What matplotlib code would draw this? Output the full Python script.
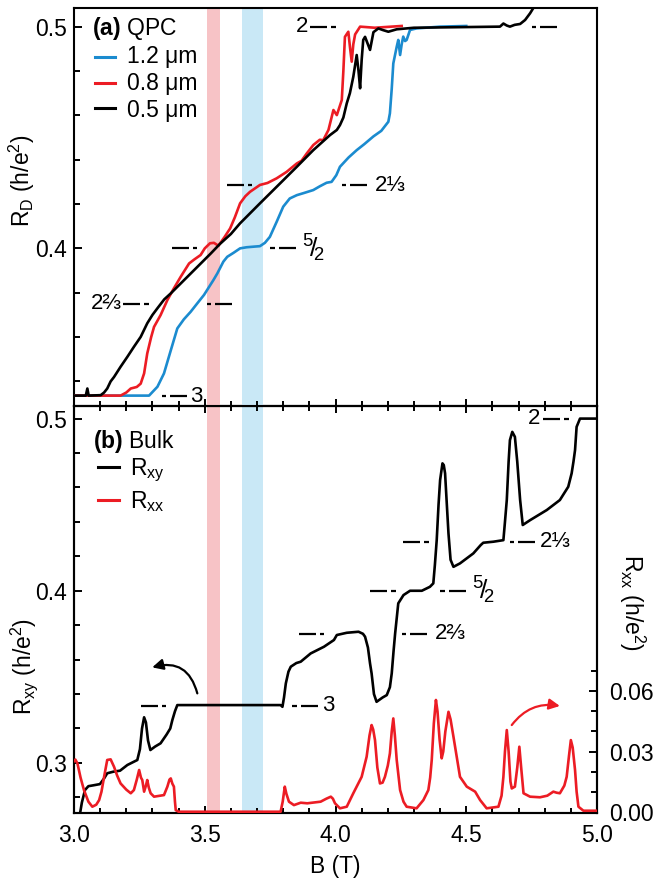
import matplotlib
matplotlib.use("Agg")
import matplotlib.pyplot as plt
import numpy as np

plt.rcParams['font.family'] = ['Liberation Sans', 'DejaVu Sans']
plt.rcParams['mathtext.fontset'] = 'custom'
plt.rcParams['mathtext.rm'] = 'Liberation Sans'
plt.rcParams['mathtext.it'] = 'Liberation Sans:italic'
plt.rcParams['mathtext.bf'] = 'Liberation Sans:bold'

# ---------------- data: (a) QPC ----------------
blue_B = [3.0, 3.287, 3.319, 3.344, 3.37, 3.395, 3.42, 3.446, 3.47, 3.497, 3.533, 3.548, 3.571, 3.586,
          3.61, 3.635, 3.66, 3.69, 3.711, 3.73, 3.749, 3.775, 3.80, 3.825, 3.852, 3.88, 3.915, 3.94,
          3.966, 3.985, 4.003, 4.017, 4.05, 4.081, 4.11, 4.145, 4.175, 4.202, 4.208, 4.215, 4.221,
          4.234, 4.24, 4.247, 4.253, 4.259, 4.266, 4.272, 4.285, 4.31, 4.40, 4.50]
blue_R = [0.3336, 0.3336, 0.3376, 0.3436, 0.354, 0.3639, 0.368, 0.3714, 0.375, 0.379, 0.3857, 0.3887,
          0.394, 0.3962, 0.398, 0.400, 0.4005, 0.4008, 0.401, 0.4025, 0.4052, 0.412, 0.4188, 0.4225,
          0.424, 0.425, 0.4263, 0.428, 0.4296, 0.430, 0.433, 0.4368, 0.441, 0.4443, 0.447, 0.4505,
          0.453, 0.4571, 0.4609, 0.472, 0.4834, 0.4909, 0.494, 0.4872, 0.492, 0.4955, 0.4935, 0.494,
          0.4985, 0.4992, 0.5, 0.5003]

red_B = [3.0, 3.178, 3.20, 3.217, 3.24, 3.255, 3.268, 3.28, 3.295, 3.306, 3.331, 3.357, 3.382, 3.408,
         3.44, 3.46, 3.484, 3.50, 3.52, 3.535, 3.552, 3.575, 3.597, 3.615, 3.635, 3.655, 3.673, 3.711,
         3.74, 3.775, 3.813, 3.852, 3.87, 3.89, 3.915, 3.94, 3.953, 3.973, 3.992, 4.005, 4.024, 4.030,
         4.036, 4.049, 4.056, 4.062, 4.068, 4.075, 4.094, 4.15, 4.253]
red_R = [0.3336, 0.3336, 0.335, 0.3368, 0.3375, 0.339, 0.3436, 0.3526, 0.36, 0.3646, 0.3699, 0.3767,
         0.382, 0.3872, 0.3932, 0.395, 0.397, 0.400, 0.4023, 0.4025, 0.4012, 0.405, 0.409, 0.414,
         0.4203, 0.4235, 0.4255, 0.4286, 0.4295, 0.4316, 0.4345, 0.4383, 0.4395, 0.4428, 0.4466,
         0.449, 0.4488, 0.4534, 0.4624, 0.4601, 0.4669, 0.480, 0.4954, 0.4977, 0.490, 0.4842, 0.492,
         0.4965, 0.5, 0.4995, 0.5003]

black_B = [3.0, 3.045, 3.051, 3.056, 3.102, 3.115, 3.127, 3.14, 3.153, 3.178, 3.204, 3.229, 3.255,
           3.28, 3.30, 3.319, 3.345, 3.37, 3.421, 3.472, 3.523, 3.558, 3.60, 3.635, 3.711, 3.788,
           3.852, 3.915, 3.979, 4.005, 4.017, 4.03, 4.043, 4.055, 4.068, 4.081, 4.088, 4.094, 4.100,
           4.106, 4.113, 4.132, 4.145, 4.164, 4.18, 4.202, 4.234, 4.30, 4.629, 4.642, 4.655, 4.667,
           4.685, 4.706, 4.725, 4.744, 4.756, 4.76]
black_R = [0.3336, 0.3336, 0.3368, 0.3336, 0.3338, 0.335, 0.3368, 0.340, 0.342, 0.3466, 0.3511, 0.3556,
           0.3601, 0.3662, 0.370, 0.373, 0.377, 0.3797, 0.3857, 0.3917, 0.3977, 0.4020, 0.4065,
           0.4113, 0.4203, 0.4293, 0.4368, 0.4443, 0.4511, 0.4534, 0.4556, 0.459, 0.4654, 0.470,
           0.4774, 0.4872, 0.480, 0.4722, 0.485, 0.494, 0.4954, 0.4895, 0.4975, 0.4992, 0.4985,
           0.4977, 0.4988, 0.4995, 0.5, 0.5014, 0.5005, 0.5, 0.5008, 0.5012, 0.503, 0.506, 0.5083, 0.5095]

# ---------------- data: (b) Bulk ----------------
rxy_B = [3.023, 3.03, 3.042, 3.055, 3.074, 3.099, 3.115, 3.127, 3.15, 3.176, 3.204, 3.242, 3.252,
         3.260, 3.268, 3.275, 3.283, 3.292, 3.31, 3.331, 3.354, 3.368, 3.376, 3.386, 3.395, 3.79,
         3.797, 3.803, 3.81, 3.82, 3.829, 3.85, 3.867, 3.905, 3.956, 3.994, 4.005, 4.043, 4.088,
         4.105, 4.113, 4.124, 4.132, 4.138, 4.147, 4.157, 4.18, 4.196, 4.208, 4.215, 4.222, 4.228,
         4.24, 4.26, 4.285, 4.33, 4.361, 4.374, 4.38, 4.387, 4.394, 4.40, 4.409, 4.414, 4.419,
         4.425, 4.432, 4.44, 4.451, 4.476, 4.527, 4.555, 4.565, 4.604, 4.642, 4.648, 4.655, 4.662,
         4.667, 4.676, 4.686, 4.695, 4.706, 4.716, 4.744, 4.808, 4.858, 4.89, 4.903, 4.91, 4.916,
         4.922, 4.935, 5.0]
rxy_R = [0.2707, 0.277, 0.2843, 0.2865, 0.2870, 0.2877, 0.291, 0.294, 0.2949, 0.2955, 0.2988, 0.3017,
         0.308, 0.320, 0.3265, 0.3235, 0.313, 0.3075, 0.3095, 0.3114, 0.3165, 0.320, 0.3249, 0.330,
         0.3336, 0.3336, 0.3326, 0.338, 0.3462, 0.353, 0.3559, 0.358, 0.3588, 0.3636, 0.3675,
         0.3714, 0.3743, 0.3756, 0.3762, 0.375, 0.3733, 0.367, 0.3578, 0.352, 0.340, 0.3355, 0.338,
         0.3394, 0.344, 0.352, 0.365, 0.3752, 0.3927, 0.3975, 0.4, 0.4, 0.4023, 0.4043, 0.415,
         0.4294, 0.450, 0.4643, 0.474, 0.473, 0.4682, 0.452, 0.4333, 0.418, 0.4139, 0.4159, 0.4217,
         0.4265, 0.4279, 0.4285, 0.4294, 0.440, 0.4527, 0.475, 0.4875, 0.4923, 0.4894, 0.475,
         0.4527, 0.4382, 0.441, 0.4469, 0.4527, 0.4604, 0.4682, 0.475, 0.4817, 0.4952, 0.5, 0.5]

rxx_B = [3.0, 3.005, 3.013, 3.025, 3.038, 3.055, 3.07, 3.085, 3.096, 3.105, 3.115, 3.127, 3.14, 3.153,
         3.165, 3.178, 3.20, 3.217, 3.229, 3.24, 3.249, 3.256, 3.261, 3.268, 3.275, 3.28, 3.286,
         3.293, 3.306, 3.344, 3.357, 3.365, 3.37, 3.376, 3.382, 3.386, 3.389, 3.40, 3.79, 3.798,
         3.806, 3.812, 3.822, 3.841, 3.867, 3.892, 3.943, 3.965, 3.982, 3.99, 3.998, 4.017, 4.043,
         4.068, 4.1, 4.119, 4.13, 4.138, 4.144, 4.151, 4.16, 4.17, 4.18, 4.189, 4.2, 4.208, 4.215,
         4.221, 4.227, 4.234, 4.247, 4.26, 4.272, 4.31, 4.336, 4.355, 4.362, 4.368, 4.376, 4.384,
         4.39, 4.398, 4.406, 4.412, 4.42, 4.432, 4.44, 4.451, 4.476, 4.502, 4.534, 4.553, 4.578,
         4.623, 4.635, 4.642, 4.648, 4.655, 4.662, 4.669, 4.674, 4.686, 4.695, 4.703, 4.71, 4.719,
         4.744, 4.782, 4.81, 4.833, 4.845, 4.858, 4.875, 4.884, 4.893, 4.9, 4.907, 4.916, 4.922,
         4.929, 4.948, 5.0]
rxx_R = [0.0252, 0.026, 0.0241, 0.017, 0.0108, 0.005, 0.0025, 0.0035, 0.0058, 0.010, 0.0174, 0.0258,
         0.0261, 0.0224, 0.018, 0.0141, 0.011, 0.0092, 0.0108, 0.016, 0.0208, 0.017, 0.0158, 0.010,
         0.013, 0.0158, 0.012, 0.0092, 0.0075, 0.0083, 0.0125, 0.016, 0.0166, 0.014, 0.0125, 0.005,
         0.0008, 0.0, 0.0, 0.005, 0.0125, 0.009, 0.005, 0.0033, 0.0045, 0.0042, 0.005, 0.0065,
         0.0075, 0.0065, 0.0042, 0.0017, 0.0025, 0.0092, 0.0174, 0.0274, 0.038, 0.0432, 0.041,
         0.0357, 0.022, 0.0141, 0.0145, 0.0174, 0.023, 0.0291, 0.040, 0.0465, 0.038, 0.0258,
         0.0108, 0.005, 0.0025, 0.0017, 0.0058, 0.0108, 0.017, 0.0258, 0.044, 0.0557, 0.050,
         0.036, 0.0266, 0.030, 0.040, 0.0498, 0.046, 0.0374, 0.0174, 0.0125, 0.01, 0.0058, 0.0017,
         0.0025, 0.008, 0.0174, 0.030, 0.0407, 0.030, 0.015, 0.0116, 0.0125, 0.022, 0.0324, 0.022,
         0.0092, 0.0075, 0.0072, 0.008, 0.01, 0.0095, 0.0092, 0.013, 0.0174, 0.028, 0.0357, 0.032,
         0.0208, 0.010, 0.0025, 0.0005, 0.0005]

# plateau levels (h/e^2) and labels
level_vals = [1/2, 3/7, 2/5, 3/8, 1/3]
level_text = ["2", "2⅓", r"${}^{5}\!/\!{}_{2}$", "2⅔", "3"]

# ---------------- styles ----------------
C_BLUE = '#1b8bcf'
C_RED = '#ec1c24'
C_PINK = '#f7c3c6'
C_LBLUE = '#c9e8f6'
PX = 2.0 / 523.0  # data units (T) per pixel

fig = plt.figure(figsize=(6.58, 8.8), dpi=100)
axA = fig.add_axes([0.1125, 0.5386, 0.7948, 0.4523])
axB = fig.add_axes([0.1125, 0.0761, 0.7948, 0.4625])
axR = axB.twinx()

FS = 16.5
MFS = 16
for ax in (axA, axB, axR):
    for s in ax.spines.values():
        s.set_linewidth(1.5)

def style_x(ax, labels):
    ax.set_xticks([3.0, 3.5, 4.0, 4.5, 5.0])
    ax.set_xticks(np.arange(3.0, 5.001, 0.1), minor=True)
    ax.set_xlim(3.0, 5.0)
    ax.tick_params(axis='x', which='both', direction='in', width=1.4, top=(ax is axB),
                   labelbottom=labels, pad=8, labelsize=FS)
    ax.tick_params(axis='x', which='major', length=5)
    ax.tick_params(axis='x', which='minor', length=3.5)

style_x(axA, False)
style_x(axB, True)
axB.set_xticklabels(['3.0', '3.5', '4.0', '4.5', '5.0'])

for ax, lo, hi, mj, mn in ((axA, 0.3289, 0.5084, [0.4, 0.5], np.arange(0.34, 0.501, 0.02)),
                           (axB, 0.2709, 0.5073, [0.3, 0.4, 0.5], np.arange(0.28, 0.501, 0.02))):
    ax.set_yticks(mj)
    ax.set_yticks(mn, minor=True)
    ax.set_ylim(lo, hi)
    ax.tick_params(axis='y', which='both', direction='in', width=1.4, pad=5, labelsize=FS)
    ax.tick_params(axis='y', which='major', length=6)
    ax.tick_params(axis='y', which='minor', length=4)
axA.set_yticklabels(['0.4', '0.5'])
axB.set_yticklabels(['0.3', '0.4', '0.5'])

axR.set_yticks([0.0, 0.03, 0.06])
axR.set_yticks([0.01, 0.02, 0.04, 0.05, 0.07], minor=True)
axR.set_ylim(-0.00065, 0.2022)
axR.set_yticklabels(['0.00', '0.03', '0.06'])
axR.tick_params(axis='y', which='both', direction='in', width=1.4, pad=9, labelsize=FS)
axR.tick_params(axis='y', which='major', length=6)
axR.tick_params(axis='y', which='minor', length=4)

# shaded bands
for ax in (axA, axB):
    ax.axvspan(3.51, 3.558, color=C_PINK, lw=0, zorder=0)
    ax.axvspan(3.644, 3.724, color=C_LBLUE, lw=0, zorder=0)

LW = 1.9
axA.plot(blue_B, blue_R, color=C_BLUE, lw=LW, zorder=3)
axA.plot(black_B, black_R, color='k', lw=LW, zorder=4)
axA.plot(red_B, red_R, color=C_RED, lw=LW, zorder=3)
axB.plot(rxy_B, rxy_R, color='k', lw=LW, zorder=3)
axR.plot(rxx_B, rxx_R, color=C_RED, lw=LW, zorder=3)

# plateau markers
def marker(ax, x0, y, kind):
    dash, gap, dot = 17 * PX, 4 * PX, 4.5 * PX
    if kind == 'L':
        segs = [(x0, x0 + dash), (x0 + dash + gap, x0 + dash + gap + dot)]
    else:
        segs = [(x0, x0 + dot), (x0 + dot + gap, x0 + dot + gap + dash)]
    for a, b in segs:
        ax.plot([a, b], [y, y], color='k', lw=1.6, solid_capstyle='butt', zorder=5)

# (a)
marker(axA, 3.9025, level_vals[0], 'L'); marker(axA, 4.750, level_vals[0], 'R')
axA.text(3.897, level_vals[0], level_text[0], ha='right', va='center', fontsize=MFS)
marker(axA, 3.584, level_vals[1], 'L'); marker(axA, 4.024, level_vals[1], 'R')
axA.text(4.151, level_vals[1], level_text[1], ha='left', va='center', fontsize=MFS)
marker(axA, 3.374, level_vals[2], 'L'); marker(axA, 3.7495, level_vals[2], 'R')
axA.text(3.871, level_vals[2], level_text[2], ha='left', va='center', fontsize=MFS + 3)
marker(axA, 3.1885, level_vals[3], 'L'); marker(axA, 3.507, level_vals[3], 'R')
axA.text(3.182, level_vals[3], level_text[3], ha='right', va='center', fontsize=MFS)
marker(axA, 3.335, level_vals[4], 'R')
axA.text(3.444, level_vals[4], level_text[4], ha='left', va='center', fontsize=MFS)
# (b)
marker(axB, 4.795, level_vals[0], 'L')
axB.text(4.782, level_vals[0], level_text[0], ha='right', va='center', fontsize=MFS)
marker(axB, 4.259, level_vals[1], 'L'); marker(axB, 4.667, level_vals[1], 'R')
axB.text(4.782, level_vals[1], level_text[1], ha='left', va='center', fontsize=MFS)
marker(axB, 4.132, level_vals[2], 'L'); marker(axB, 4.400, level_vals[2], 'R')
axB.text(4.521, level_vals[2], level_text[2], ha='left', va='center', fontsize=MFS + 3)
marker(axB, 3.860, level_vals[3], 'L'); marker(axB, 4.253, level_vals[3], 'R')
axB.text(4.381, level_vals[3], level_text[3], ha='left', va='center', fontsize=MFS)
marker(axB, 3.255, level_vals[4], 'L'); marker(axB, 3.835, level_vals[4], 'R')
axB.text(3.948, level_vals[4], level_text[4], ha='left', va='center', fontsize=MFS)

# legends (manual)
axA.text(0.0344, 0.932, r'$\bf{(a)}$ QPC', transform=axA.transAxes, fontsize=FS, ha='left', va='baseline')
for (lab, col, yb, yl) in (('1.2 μm', C_BLUE, 0.861, 0.877), ('0.8 μm', C_RED, 0.794, 0.8116),
                           ('0.5 μm', 'k', 0.727, 0.7487)):
    axA.plot([0.040, 0.0784], [yl, yl], color=col, lw=2.2, transform=axA.transAxes)
    axA.text(0.1013, yb, lab, transform=axA.transAxes, fontsize=FS, ha='left', va='baseline')

axB.text(0.0358, 0.896, r'$\bf{(b)}$ Bulk', transform=axB.transAxes, fontsize=FS, ha='left', va='baseline')
for (lab, col, yb, yl) in ((r'R$_{\rm xy}$', 'k', 0.830, 0.851), (r'R$_{\rm xx}$', C_RED, 0.749, 0.769)):
    axB.plot([0.0459, 0.086], [yl, yl], color=col, lw=2.2, transform=axB.transAxes)
    axB.text(0.107, yb, lab, transform=axB.transAxes, fontsize=FS, ha='left', va='baseline')

# arrows
axB.annotate('', xy=(3.299, 0.3555), xytext=(3.4715, 0.3404),
             arrowprops=dict(arrowstyle='-|>', connectionstyle='arc3,rad=0.5', color='k',
                             lw=1.6, mutation_scale=16, shrinkA=0, shrinkB=0))
axR.annotate('', xy=(4.858, 0.0527), xytext=(4.674, 0.0432),
             arrowprops=dict(arrowstyle='-|>', connectionstyle='arc3,rad=-0.3', color=C_RED,
                             lw=1.6, mutation_scale=16, shrinkA=0, shrinkB=0))

# axis labels
axA.set_ylabel(r'R$_{\rm D}$ (h/e$^2$)', fontsize=FS, ha='center', va='center')
axA.yaxis.set_label_coords(-0.1004, 0.565)
axB.set_ylabel(r'R$_{\rm xy}$ (h/e$^2$)', fontsize=FS, ha='center', va='center')
axB.yaxis.set_label_coords(-0.095, 0.361)
axR.set_ylabel(r'R$_{\rm xx}$ (h/e$^2$)', fontsize=FS, rotation=270, ha='center', va='center')
axR.yaxis.set_label_coords(1.068, 0.516)
axB.set_xlabel('B (T)', fontsize=FS, labelpad=6)

axA.set_zorder(2)
axB.set_zorder(1)
axR.set_zorder(1.5)
axA.patch.set_visible(False)

fig.savefig('out.png', dpi=100)
